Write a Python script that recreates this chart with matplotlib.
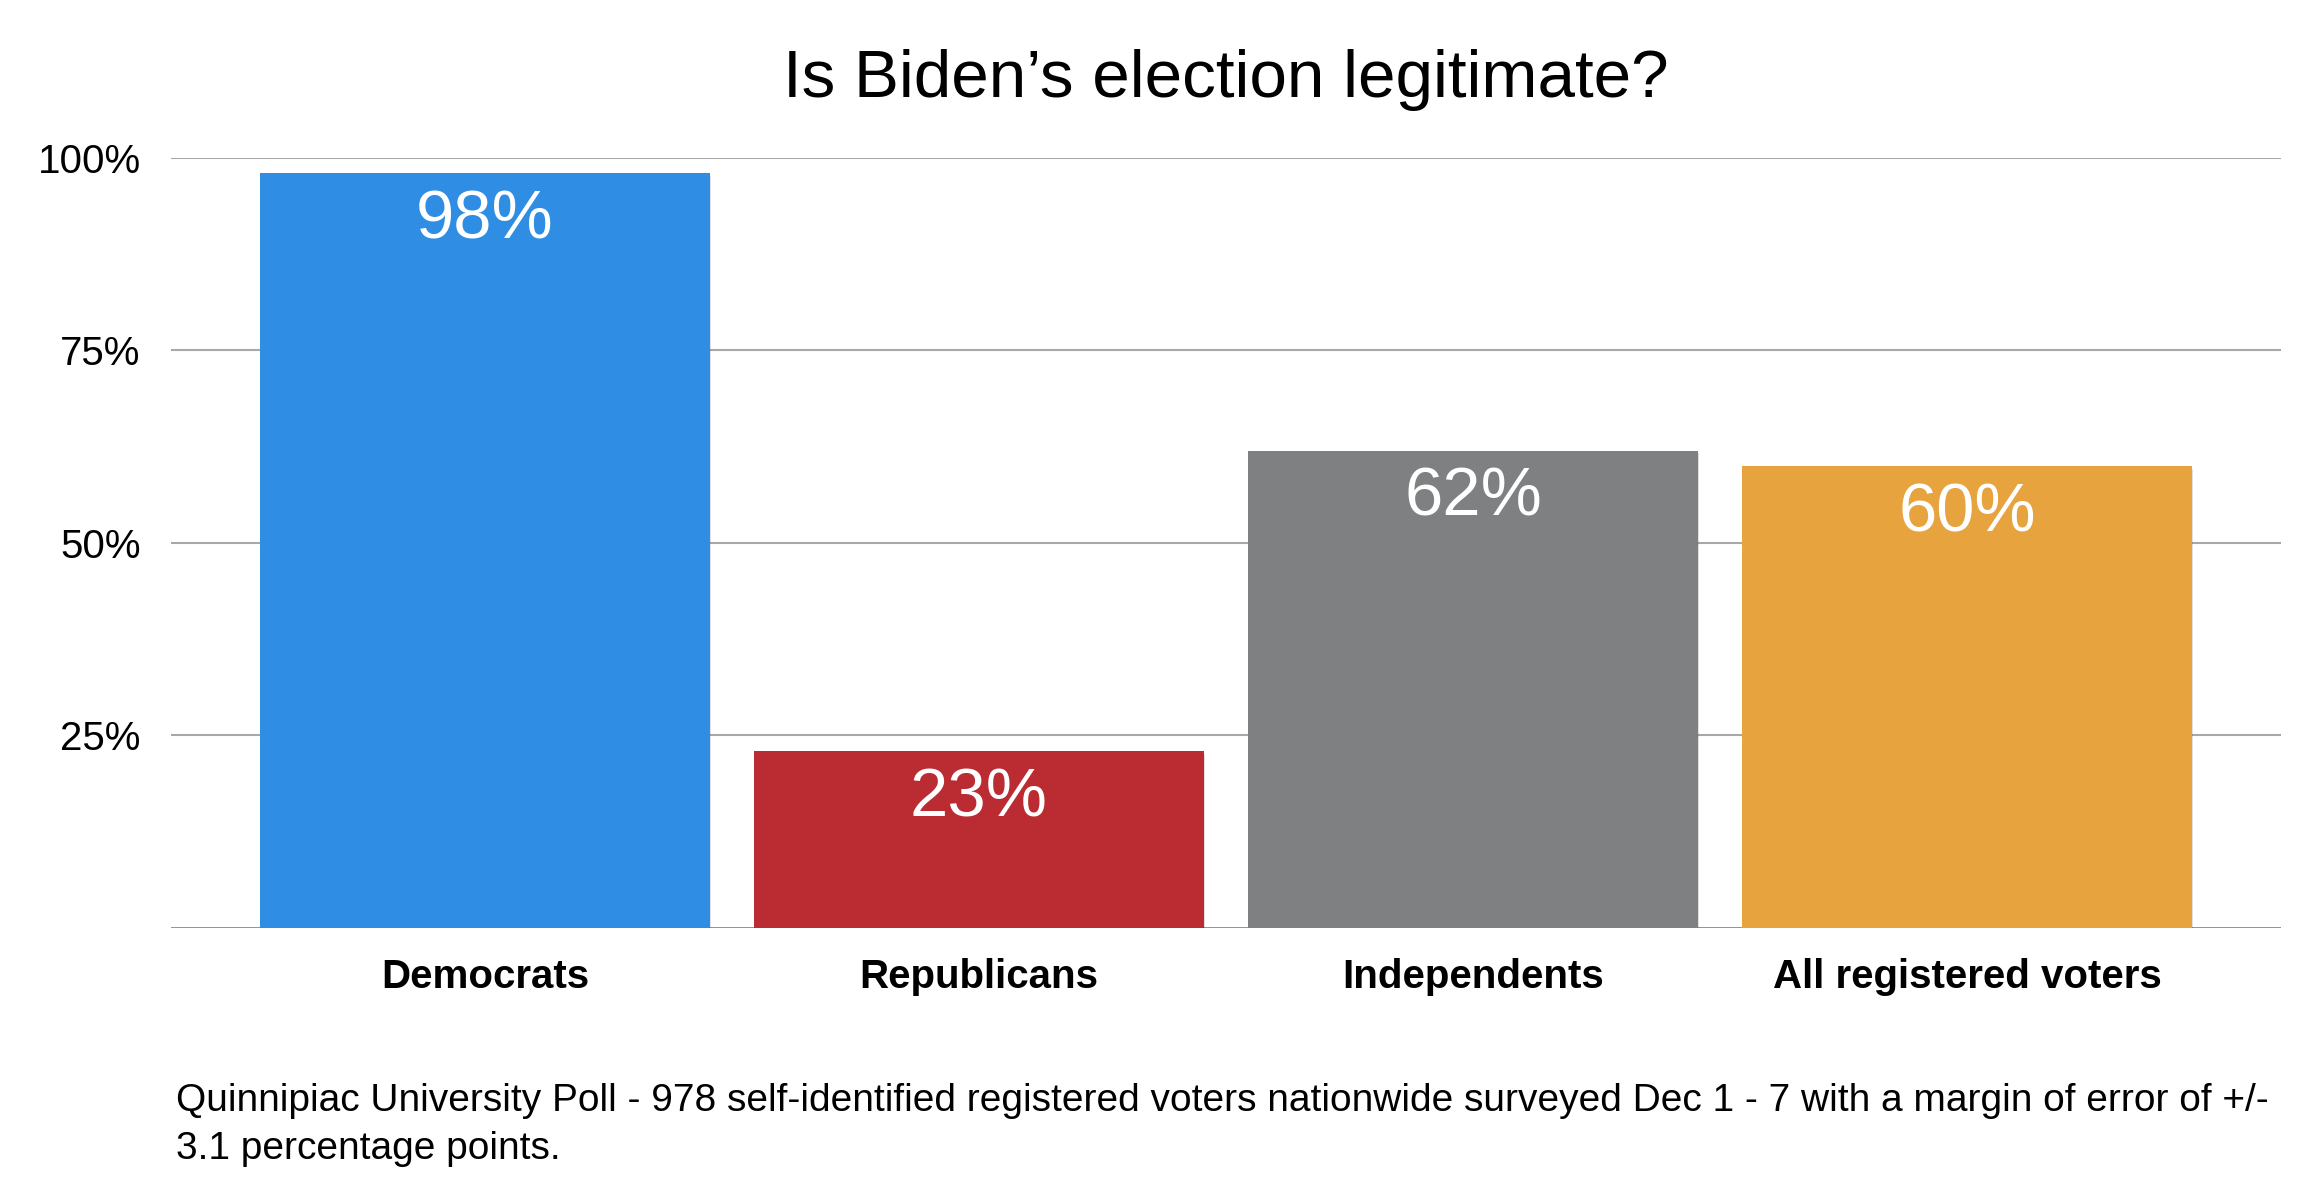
import matplotlib.pyplot as plt
import matplotlib.patheffects as pe
import numpy as np

plt.rcParams['font.family'] = ['Liberation Sans', 'DejaVu Sans']

CATEGORIES = ["Democrats", "Republicans", "Independents", "All registered voters"]
VALUES = [98, 23, 62, 60]
COLORS = ["#2F8DE3", "#BA2B32", "#7E8081", "#E7A33E"]
YTICKS = [25, 50, 75, 100]
TITLE = "Is Biden\u2019s election legitimate?"
NOTE = ("Quinnipiac University Poll - 978 self-identified registered voters nationwide "
        "surveyed Dec 1 - 7 with a margin of error of +/-\n3.1 percentage points.")

fig = plt.figure(figsize=(23.12, 12.02), dpi=100)
ax = fig.add_axes([0.074, 0.228, 0.9126, 0.6406])

x = np.arange(len(CATEGORIES))
shadow = [pe.SimplePatchShadow(offset=(1, -2), shadow_rgbFace="#000000", alpha=0.12), pe.Normal()]
bars = ax.bar(x, VALUES, width=0.91, color=COLORS, zorder=3)
for b in bars:
    b.set_path_effects(shadow)

for xi, v in zip(x, VALUES):
    ax.text(xi, v - 2.0, f"{v}%", ha="center", va="top", color="white", fontsize=49.5, zorder=4)

ax.set_xlim(-0.635, 3.635)
ax.set_ylim(0, 100)
ax.set_yticks(YTICKS)
ax.set_yticklabels([f"{t}%" for t in YTICKS], fontsize=29)
ax.set_xticks(x)
ax.set_xticklabels(CATEGORIES, fontsize=29, fontweight="bold")
ax.tick_params(axis="both", length=0)
ax.tick_params(axis="y", pad=22)
ax.tick_params(axis="x", pad=22)

ax.grid(axis="y", color="#A8A8A8", linewidth=1.5, zorder=0)
ax.axhline(0, color="#8A8A8A", linewidth=2, zorder=2)
for s in ax.spines.values():
    s.set_visible(False)

ax.set_title(TITLE, fontsize=48.5, pad=44)
fig.text(0.076, 1 - 1125 / 1202, NOTE, ha="left", va="center", fontsize=28, linespacing=1.4)

fig.savefig("out.png", dpi=100)
